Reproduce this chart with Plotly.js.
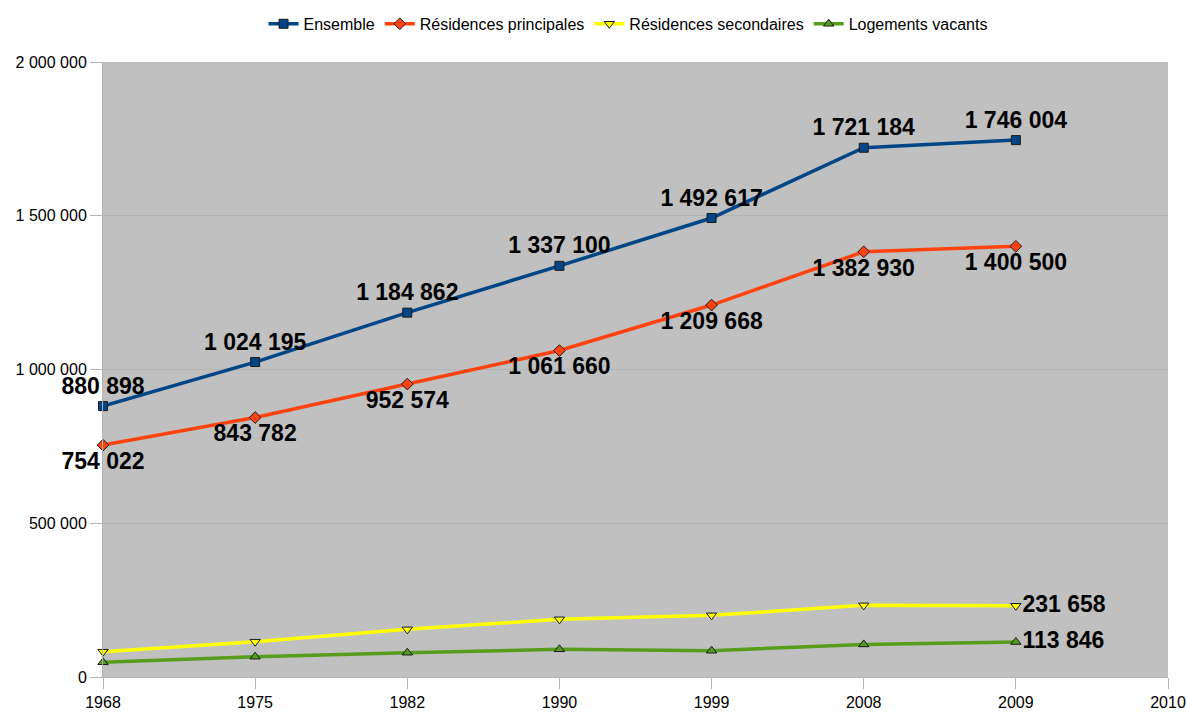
<!DOCTYPE html>
<html>
<head>
<meta charset="utf-8">
<script src="https://cdn.plot.ly/plotly-3.0.1.min.js"></script>
<style>
  html, body { margin: 0; padding: 0; background: #ffffff; }
  #chart { width: 1187px; height: 718px; }
</style>
</head>
<body>
<div id="chart"></div>
<script>
// Census years (2010 is an empty slot at the end of the axis)
const years = ['1968', '1975', '1982', '1990', '1999', '2008', '2009', '2010'];
const dataYears = ['1968', '1975', '1982', '1990', '1999', '2008', '2009'];

// Dwelling counts per category
const ensemble = [880898, 1024195, 1184862, 1337100, 1492617, 1721184, 1746004];
const principales = [754022, 843782, 952574, 1061660, 1209668, 1382930, 1400500];
const secondaires = [82300, 114800, 155000, 187600, 200600, 233000, 231658];
const vacants = [47800, 66000, 79000, 90000, 85500, 106000, 113846];

// Which points carry a value label
const ensembleLabelled = [true, true, true, true, true, true, true];
const principalesLabelled = [true, true, true, true, true, true, true];
const secondairesLabelled = [false, false, false, false, false, false, true];
const vacantsLabelled = [false, false, false, false, false, false, true];

function fmt(v) {
  return String(Math.round(v)).replace(/\B(?=(\d{3})+(?!\d))/g, ' ');
}
function labels(vals, shown) {
  return vals.map((v, i) => shown[i] ? fmt(v) : '');
}

const labelFont = { family: 'Liberation Sans, Arial, sans-serif', size: 23, color: '#000000', weight: 'bold' };

function series(name, vals, shown, color, symbol, pos) {
  return {
    type: 'scatter',
    mode: 'lines+markers+text',
    name: name,
    x: dataYears,
    y: vals,
    text: labels(vals, shown),
    textposition: pos,
    textfont: labelFont,
    cliponaxis: false,
    hoverinfo: 'x+y+name',
    line: { color: color, width: 3.5 },
    marker: { symbol: symbol, size: 9, color: color, line: { color: '#1a1a1a', width: 1 } }
  };
}

const traces = [
  series('Ensemble', ensemble, ensembleLabelled, '#004586', 'square', 'top center'),
  series('Résidences principales', principales, principalesLabelled, '#ff420e', 'diamond', 'bottom center'),
  series('Résidences secondaires', secondaires, secondairesLabelled, '#ffff00', 'triangle-down', 'middle right'),
  series('Logements vacants', vacants, vacantsLabelled, '#579d1c', 'triangle-up', 'middle right')
];

const tickFont = { family: 'Liberation Sans, Arial, sans-serif', size: 16, color: '#000000' };

const layout = {
  width: 1187,
  height: 718,
  margin: { l: 103, r: 19, t: 62, b: 41, autoexpand: false },
  paper_bgcolor: '#ffffff',
  plot_bgcolor: '#c0c0c0',
  separators: ', ',
  showlegend: true,
  legend: {
    orientation: 'h',
    x: 0.493, xanchor: 'center',
    y: 1.062, yanchor: 'middle',
    font: { family: 'Liberation Sans, Arial, sans-serif', size: 16, color: '#000000' },
    itemwidth: 30,
    tracegroupgap: 0,
    bgcolor: 'rgba(0,0,0,0)'
  },
  xaxis: {
    type: 'category',
    categoryorder: 'array',
    categoryarray: years,
    tickvals: years,
    ticktext: years,
    range: [0, 7],
    showgrid: false,
    zeroline: false,
    showline: true,
    linecolor: '#b3b3b3',
    linewidth: 1,
    ticks: 'outside',
    ticklen: 11,
    tickcolor: '#b3b3b3',
    tickfont: tickFont,
    fixedrange: true
  },
  yaxis: {
    range: [0, 2000000],
    tickvals: [0, 500000, 1000000, 1500000, 2000000],
    tickformat: ',d',
    showgrid: true,
    gridcolor: '#b3b3b3',
    gridwidth: 1,
    zeroline: false,
    showline: true,
    linecolor: '#b3b3b3',
    linewidth: 1,
    ticks: 'outside',
    ticklen: 12,
    tickcolor: '#b3b3b3',
    tickfont: tickFont,
    fixedrange: true
  }
};

Plotly.newPlot('chart', traces, layout, { displayModeBar: false, staticPlot: true });
</script>
</body>
</html>
